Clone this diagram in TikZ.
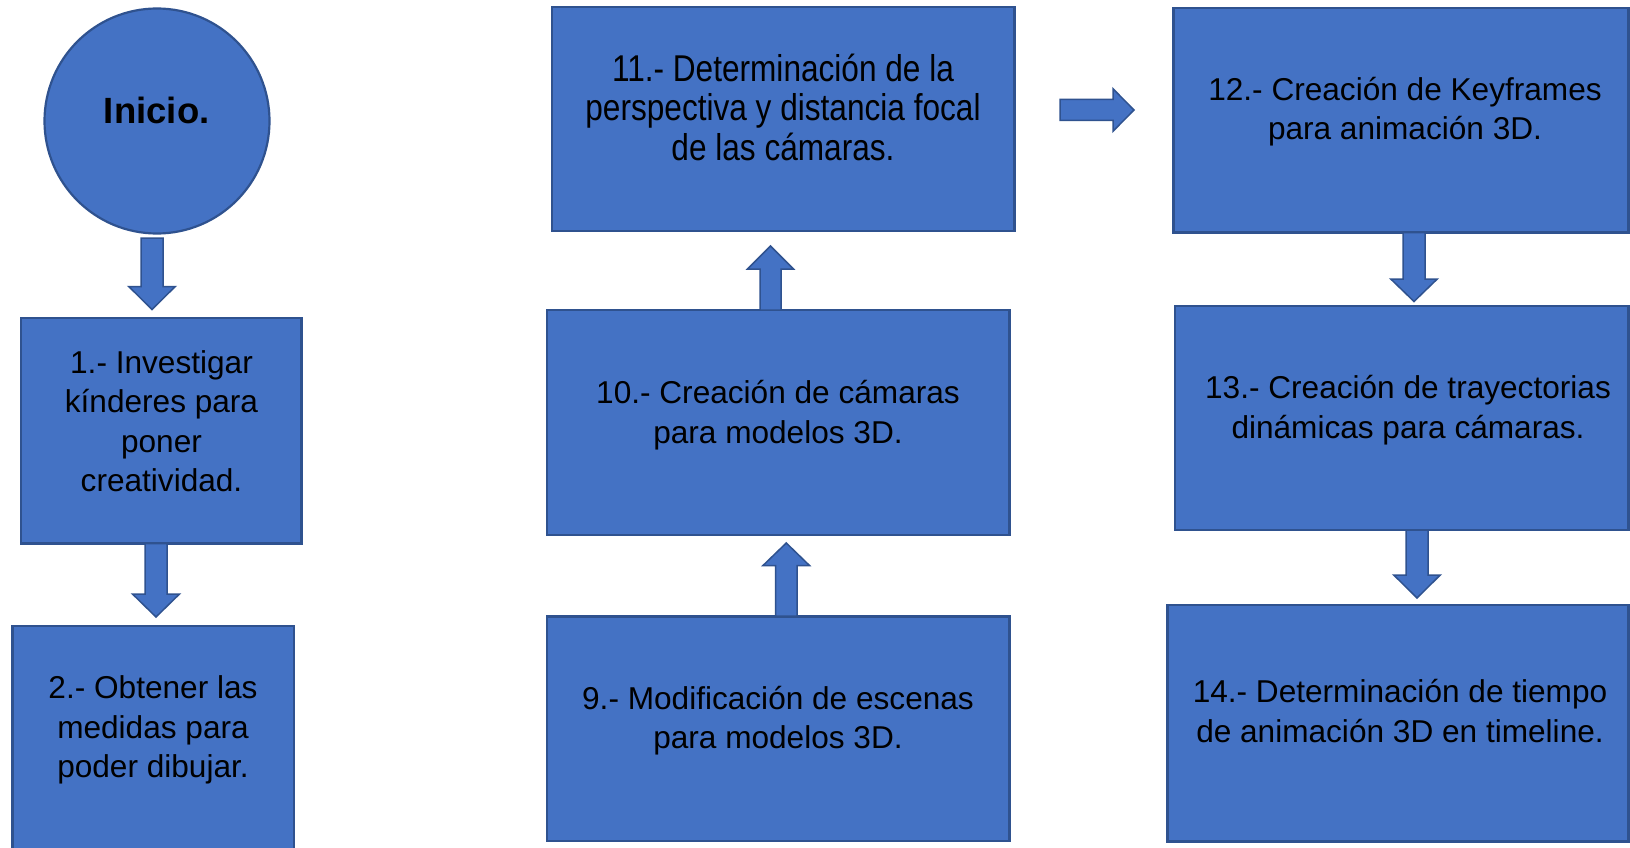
\documentclass[tikz,border=0pt]{standalone}
\usepackage{fontspec}
\setmainfont{Liberation Sans}
\usepackage{graphicx}
\definecolor{boxfill}{HTML}{4472C4}
\definecolor{boxline}{HTML}{2F528F}
\newcommand\boxfont{\fontsize{31.6pt}{39.5pt}\selectfont}
% vertical block arrow: cx, y start, y head base, y tip, shaft half width, head half width
\newcommand\varrow[6]{\draw[blockarrow] ({#1-#5},#2) -- ({#1-#5},#3) -- ({#1-#6},#3) -- (#1,#4) -- ({#1+#6},#3) -- ({#1+#5},#3) -- ({#1+#5},#2) -- cycle;}
% horizontal block arrow: cy, x start, x head base, x tip, shaft half width, head half width
\newcommand\harrow[6]{\draw[blockarrow] (#2,{#1-#5}) -- (#3,{#1-#5}) -- (#3,{#1-#6}) -- (#4,#1) -- (#3,{#1+#6}) -- (#3,{#1+#5}) -- (#2,{#1+#5}) -- cycle;}
\tikzset{
  stepbox/.style={draw=boxline, fill=boxfill, line width=2.2pt, inner sep=0pt, outer sep=0pt},
  blockarrow/.style={draw=boxline, fill=boxfill, line width=1.5pt, line join=miter},
  txt/.style={inner sep=0pt, outer sep=0pt, align=center, font=\boxfont, text=black, anchor=north},
}
\begin{document}
\begin{tikzpicture}[x=1pt,y=-1pt]
\useasboundingbox (0,0) rectangle (1630,848);
\clip (0,0) rectangle (1630,848);
\fill[white] (0,0) rectangle (1630,848);

% ---- boxes ----
\node[stepbox, circle, minimum size=225pt] (start) at (157,121) {};
\node[stepbox, minimum width=280.7pt, minimum height=225.5pt] (b1) at (161.15,430.75) {};
\node[stepbox, minimum width=281.7pt, minimum height=244pt] (b2) at (153.35,748) {};
\node[stepbox, minimum width=462.5pt, minimum height=223.7pt] (b11) at (783.25,119.15) {};
\node[stepbox, minimum width=462.4pt, minimum height=225.3pt] (b10) at (778.2,422.65) {};
\node[stepbox, minimum width=462.4pt, minimum height=224.6pt] (b9) at (778.2,728.7) {};
\node[stepbox, minimum width=455pt, minimum height=224.5pt] (b12) at (1401,120.25) {};
\node[stepbox, minimum width=453.9pt, minimum height=224.4pt] (b13) at (1401.55,417.8) {};
\node[stepbox, minimum width=461pt, minimum height=236.5pt] (b14) at (1398,723.25) {};

% ---- texts ----
\node[inner sep=0pt, anchor=base, font=\fontsize{36.5pt}{40pt}\selectfont\bfseries] (tstart) at (156.7,123.3) {Inicio.};
\node[txt] (t1) at (161.5,{373-30}) {\rule{0pt}{30pt}1.- Investigar\\kínderes para\\poner\\creatividad.};
\node[txt] (t2) at (153,{698.5-30}) {\rule{0pt}{30pt}2.- Obtener las\\medidas para\\poder dibujar.};
\node[txt, font=\fontsize{31.6pt}{33.47pt}\selectfont] (t11) at (783,{81.5-35.4}) {\scalebox{1}[1.18]{\begin{tabular}{@{}c@{}}\rule{0pt}{30pt}11.- Determinación de la\\perspectiva y distancia focal\\de las cámaras.\end{tabular}}};
\node[txt] (t10) at (778,{403.5-30}) {\rule{0pt}{30pt}10.- Creación de cámaras\\para modelos 3D.};
\node[txt] (t9) at (778,{709-30}) {\rule{0pt}{30pt}9.- Modificación de escenas\\para modelos 3D.};
\node[txt] (t12) at (1405,{100-30}) {\rule{0pt}{30pt}12.- Creación de Keyframes\\para animación 3D.};
\node[txt] (t13) at (1408,{398.5-30}) {\rule{0pt}{30pt}13.- Creación de trayectorias\\dinámicas para cámaras.};
\node[txt] (t14) at (1400,{702.5-30}) {\rule{0pt}{30pt}14.- Determinación de tiempo\\de animación 3D en timeline.};

% ---- block arrows ----
\varrow{152}{238}{286.5}{309.5}{11}{23.25}
\varrow{156}{543.5}{594}{617}{11}{23.5}
\varrow{770.5}{310}{269}{246}{10.5}{23}
\varrow{786.25}{616}{565.5}{543}{10.75}{23.25}
\varrow{1414}{232.5}{279}{301.5}{11}{23.25}
\varrow{1417}{530}{575}{598}{11}{23.25}
\harrow{110}{1060}{1113}{1134}{10.5}{21.25}
\end{tikzpicture}
\end{document}
